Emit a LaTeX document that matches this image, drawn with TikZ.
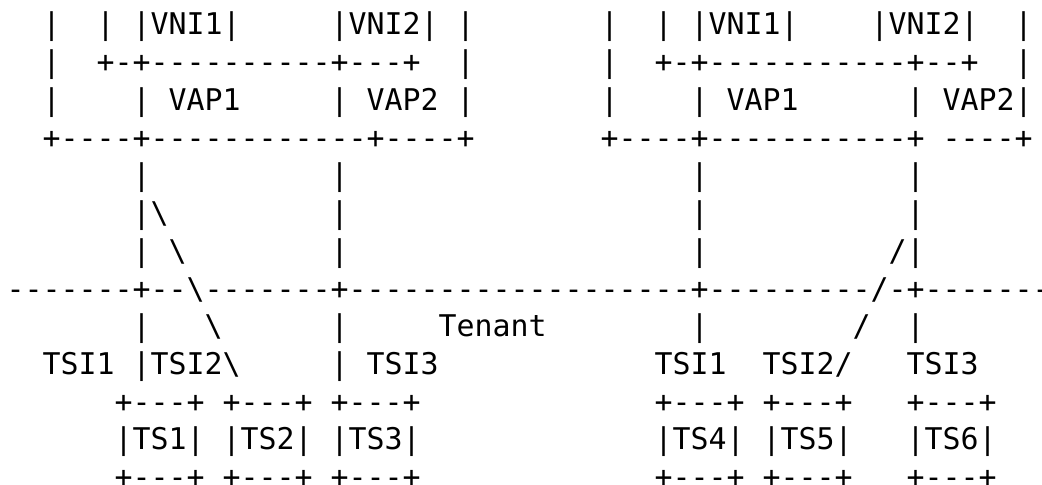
\documentclass[tikz,border=0pt]{standalone}
\usepackage{fontspec}
\setmonofont{DejaVu Sans Mono}
\usetikzlibrary{positioning}
\tikzset{
  ascii/.style={anchor=base west,inner sep=0pt,outer sep=0pt,
    font=\ttfamily\fontsize{14.95}{18}\selectfont}
}

\begin{document}
\begin{tikzpicture}[x=9pt,y=-18.86pt]
  \useasboundingbox (-3.35pt,17.5pt) rectangle (517.65pt,-225pt);
  % NVE boxes
  \foreach \c/\t in {2/|,5/{| |VNI1|},18/{|VNI2| |},33/|,36/{| |VNI1|},48/{|VNI2|},56/|}
    \node[ascii] (vni-\c) at (\c,0) {\t};
  \foreach \c/\t in {2/|,5/{+-+----------+---+},25/|,33/|,36/{+-+-----------+--+},56/|}
    \node[ascii] (sep-\c) at (\c,1) {\t};
  \foreach \c/\t in {2/|,7/{| VAP1},18/{| VAP2 |},33/|,38/{| VAP1},50/{| VAP2|}}
    \node[ascii] (vap-\c) at (\c,2) {\t};
  \node[ascii] (nveL) at (2,3) {+----+------------+----+};
  \node[ascii] (nveR) at (33,3) {+----+-----------+ ----+};
  % links down to the tenant network
  \foreach \c/\t in {7/|,18/|,38/|,50/|}
    \node[ascii] (up-\c) at (\c,4) {\t};
  \foreach \c/\t in {7/{|\textbackslash},18/|,38/|,50/|}
    \node[ascii] (mid-\c) at (\c,5) {\t};
  \foreach \c/\t in {7/|,9/{\textbackslash},18/|,38/|,49/{/|}}
    \node[ascii] (low-\c) at (\c,6) {\t};
  \node[ascii] (net) at (0,7)
    {-------+--\textbackslash-------+-------------------+---------/-+--------};
  \foreach \c/\t in {7/|,11/{\textbackslash},18/|,24/Tenant,38/|,47/{/},50/|}
    \node[ascii] (ten-\c) at (\c,8) {\t};
  % tenant systems
  \foreach \c/\t in {2/{TSI1 |TSI2\textbackslash},18/{| TSI3},36/TSI1,42/{TSI2/},50/TSI3}
    \node[ascii] (tsi-\c) at (\c,9) {\t};
  \foreach \c/\t in {6/TS1,12/TS2,18/TS3,36/TS4,42/TS5,50/TS6}{
    \node[ascii] (top-\t) at (\c,10) {+---+};
    \node[ascii] (\t) at (\c,11) {|\t|};
    \node[ascii] (bot-\t) at (\c,12) {+---+};
  }
\end{tikzpicture}
\end{document}
